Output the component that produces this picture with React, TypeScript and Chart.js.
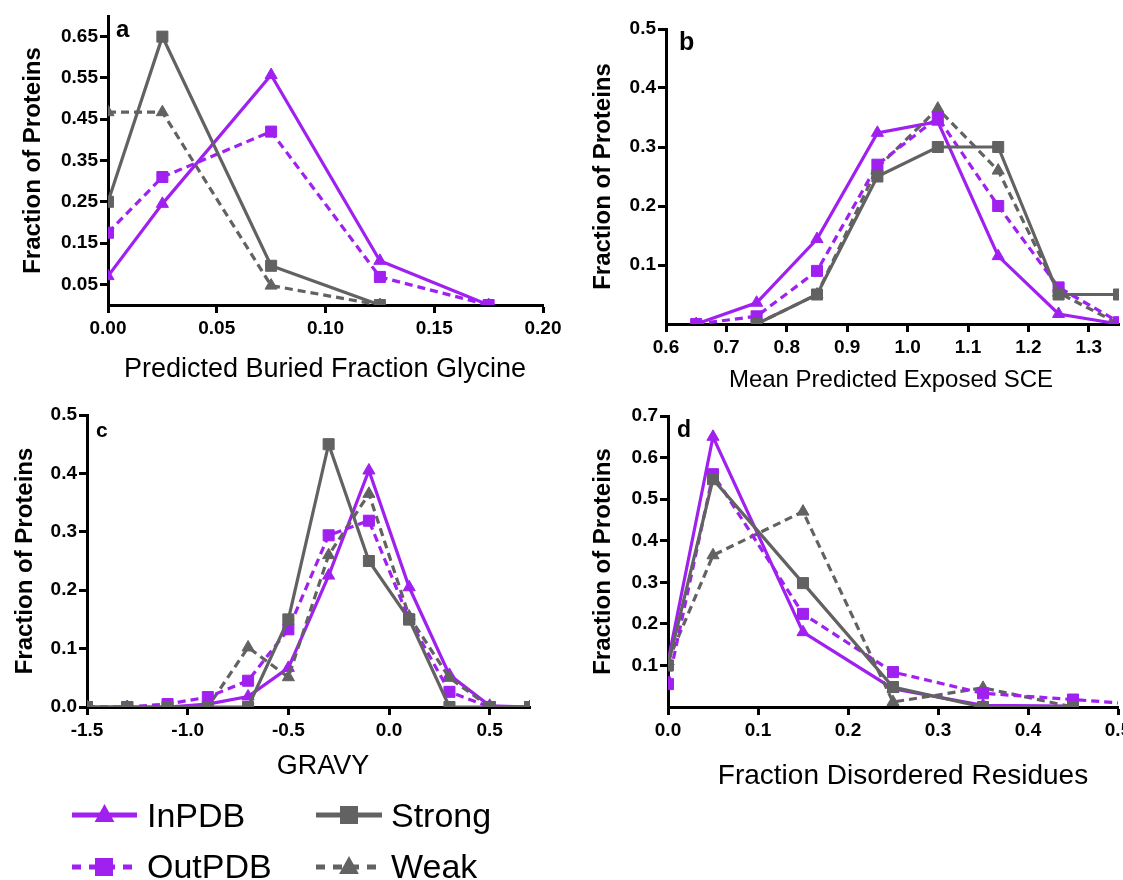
import React, { useEffect, useRef } from 'react';
import { Chart, registerables } from 'chart.js';

Chart.register(...registerables);

const PURPLE = '#A020F0';
const GRAY = '#626262';
const FONT = '"Liberation Sans", Arial, Helvetica, sans-serif';

// ---------- Panel a: Predicted Buried Fraction Glycine ----------
const aX = [0, 0.025, 0.075, 0.125, 0.175];
const aInPDB = [0.07, 0.245, 0.557, 0.107, 0.0];
const aOutPDB = [0.175, 0.31, 0.42, 0.068, 0.0];
const aGrayX = [0, 0.025, 0.075, 0.125];
const aStrong = [0.25, 0.65, 0.095, 0.0];
const aWeak = [0.467, 0.467, 0.047, 0.0];
const aXTicks = [0, 0.05, 0.1, 0.15, 0.2];
const aYTicks = [0.05, 0.15, 0.25, 0.35, 0.45, 0.55, 0.65];

// ---------- Panel b: Mean Predicted Exposed SCE ----------
const bX = [0.65, 0.75, 0.85, 0.95, 1.05, 1.15, 1.25, 1.35];
const bInPDB = [0, 0.036, 0.144, 0.324, 0.343, 0.115, 0.017, 0];
const bOutPDB = [0, 0.013, 0.09, 0.27, 0.35, 0.2, 0.062, 0.003];
const bGrayX = [0.75, 0.85, 0.95, 1.05, 1.15, 1.25, 1.35];
const bStrong = [0, 0.05, 0.25, 0.3, 0.3, 0.05, 0.05];
const bWeak = [0, 0.05, 0.265, 0.365, 0.26, 0.053, 0];
const bXTicks = [0.6, 0.7, 0.8, 0.9, 1.0, 1.1, 1.2, 1.3];
const bYTicks = [0.1, 0.2, 0.3, 0.4, 0.5];

// ---------- Panel c: GRAVY ----------
const cX = [-1.5, -1.3, -1.1, -0.9, -0.7, -0.5, -0.3, -0.1, 0.1, 0.3, 0.5, 0.7];
const cInPDB = [0, 0, 0, 0.005, 0.018, 0.067, 0.225, 0.405, 0.205, 0.055, 0.002, 0];
const cOutPDB = [0, 0, 0.005, 0.017, 0.045, 0.133, 0.294, 0.319, 0.15, 0.026, 0, 0];
const cStrong = [0, 0, 0, 0, 0, 0.15, 0.45, 0.25, 0.15, 0, 0, 0];
const cWeak = [0, 0, 0, 0, 0.102, 0.051, 0.26, 0.365, 0.155, 0.05, 0, 0];
const cXTicks = [-1.5, -1.0, -0.5, 0.0, 0.5];
const cYTicks = [0.0, 0.1, 0.2, 0.3, 0.4, 0.5];

// ---------- Panel d: Fraction Disordered Residues ----------
const dX = [0, 0.05, 0.15, 0.25, 0.35, 0.45];
const dOutX = [0, 0.05, 0.15, 0.25, 0.35, 0.45, 0.55];
const dInPDB = [0.11, 0.65, 0.18, 0.044, 0.004, 0.002];
const dOutPDB = [0.055, 0.56, 0.224, 0.084, 0.033, 0.018, 0.002];
const dStrong = [0.1, 0.548, 0.298, 0.048, 0.0, 0.0];
const dWeak = [0.11, 0.365, 0.47, 0.012, 0.046, 0.0];
const dXTicks = [0.0, 0.1, 0.2, 0.3, 0.4, 0.5];
const dYTicks = [0.1, 0.2, 0.3, 0.4, 0.5, 0.6, 0.7];

const SERIES_NAMES = ['InPDB', 'OutPDB', 'Strong', 'Weak'];
const Y_TITLE = 'Fraction of Proteins';

const CW = 1160;
const CH = 880;

type PanelSpec = {
  letter: string;
  xTitle: string;
  series: { x: number[]; y: number[] }[];
  xRange: [number, number];
  yRange: [number, number];
  xTicks: number[];
  yTicks: number[];
  xDec: number;
  yDec: number;
  area: { L: number; T: number; R: number; B: number };
  xTitlePos: { x: number; y: number; size: number };
  yTitleX: number;
  letterPos: { x: number; y: number; size: number };
};

const panels: PanelSpec[] = [
  {
    letter: 'a',
    xTitle: 'Predicted Buried Fraction Glycine',
    series: [
      { x: aX, y: aInPDB },
      { x: aX, y: aOutPDB },
      { x: aGrayX, y: aStrong },
      { x: aGrayX, y: aWeak },
    ],
    xRange: [0, 0.2],
    yRange: [0, 0.7],
    xTicks: aXTicks,
    yTicks: aYTicks,
    xDec: 2,
    yDec: 2,
    area: { L: 108, T: 16, R: 543, B: 305 },
    xTitlePos: { x: 325, y: 370, size: 27 },
    yTitleX: 33,
    letterPos: { x: 116, y: 37, size: 24 },
  },
  {
    letter: 'b',
    xTitle: 'Mean Predicted Exposed SCE',
    series: [
      { x: bX, y: bInPDB },
      { x: bX, y: bOutPDB },
      { x: bGrayX, y: bStrong },
      { x: bGrayX, y: bWeak },
    ],
    xRange: [0.6, 1.35],
    yRange: [0, 0.5],
    xTicks: bXTicks,
    yTicks: bYTicks,
    xDec: 1,
    yDec: 1,
    area: { L: 666, T: 29, R: 1119, B: 324 },
    xTitlePos: { x: 891, y: 380, size: 24 },
    yTitleX: 603,
    letterPos: { x: 679, y: 50, size: 25 },
  },
  {
    letter: 'c',
    xTitle: 'GRAVY',
    series: [
      { x: cX, y: cInPDB },
      { x: cX, y: cOutPDB },
      { x: cX, y: cStrong },
      { x: cX, y: cWeak },
    ],
    xRange: [-1.5, 0.7],
    yRange: [0, 0.5],
    xTicks: cXTicks,
    yTicks: cYTicks,
    xDec: 1,
    yDec: 1,
    area: { L: 87, T: 415, R: 530, B: 707 },
    xTitlePos: { x: 323, y: 767, size: 27 },
    yTitleX: 25,
    letterPos: { x: 96, y: 437, size: 21 },
  },
  {
    letter: 'd',
    xTitle: 'Fraction Disordered Residues',
    series: [
      { x: dX, y: dInPDB },
      { x: dOutX, y: dOutPDB },
      { x: dX, y: dStrong },
      { x: dX, y: dWeak },
    ],
    xRange: [0, 0.5],
    yRange: [0, 0.7],
    xTicks: dXTicks,
    yTicks: dYTicks,
    xDec: 1,
    yDec: 1,
    area: { L: 668, T: 416, R: 1118, B: 707 },
    xTitlePos: { x: 903, y: 776, size: 28 },
    yTitleX: 603,
    letterPos: { x: 677, y: 437, size: 23 },
  },
];

const STYLES = [
  { color: PURPLE, dash: [] as number[], point: 'triangle', radius: 7, order: 3 },
  { color: PURPLE, dash: [8, 5], point: 'rect', radius: 7.8, order: 1 },
  { color: GRAY, dash: [] as number[], point: 'rect', radius: 7.8, order: 0 },
  { color: GRAY, dash: [8, 5], point: 'triangle', radius: 7, order: 2 },
];

const panelTextPlugin = {
  id: 'panelText',
  afterDraw(chart: any, _args: any, opts: any) {
    const ctx = chart.ctx as CanvasRenderingContext2D;
    ctx.save();
    ctx.fillStyle = '#000';
    ctx.font = `bold ${opts.letterPos.size}px ${FONT}`;
    ctx.textAlign = 'left';
    ctx.textBaseline = 'alphabetic';
    ctx.fillText(opts.letter, opts.letterPos.x, opts.letterPos.y);
    ctx.font = `${opts.xTitlePos.size}px ${FONT}`;
    ctx.textAlign = 'center';
    ctx.textBaseline = 'middle';
    ctx.fillText(opts.xTitle, opts.xTitlePos.x, opts.xTitlePos.y);
    const ca = chart.chartArea;
    ctx.translate(opts.yTitleX, (ca.top + ca.bottom) / 2);
    ctx.rotate(-Math.PI / 2);
    ctx.font = `bold 24px ${FONT}`;
    ctx.fillText(Y_TITLE, 0, 0);
    ctx.restore();
  },
};

function Panel({ spec }: { spec: PanelSpec }) {
  const ref = useRef<HTMLCanvasElement>(null);
  useEffect(() => {
    if (!ref.current) return;
    const WY = 60;
    const HX = 40;
    const { L, T, R, B } = spec.area;
    const tickFont = { family: FONT, size: 19, weight: 'bold' as const };
    const axisGrid = {
      display: true,
      drawOnChartArea: false,
      drawTicks: true,
      tickLength: 8,
      tickWidth: 3,
      tickColor: '#000',
      color: '#000',
    };
    const chart = new Chart(ref.current, {
      type: 'line',
      data: {
        datasets: spec.series.map((s, i) => ({
          label: SERIES_NAMES[i],
          data: s.y.map((v, j) => ({ x: s.x[j], y: v })),
          borderColor: STYLES[i].color,
          backgroundColor: STYLES[i].color,
          borderWidth: 3.2,
          borderDash: STYLES[i].dash,
          pointStyle: STYLES[i].point as any,
          pointRadius: STYLES[i].radius,
          pointBorderWidth: 1,
          pointBorderColor: STYLES[i].color,
          pointBackgroundColor: STYLES[i].color,
          tension: 0,
          fill: false,
          order: STYLES[i].order,
          clip: 0,
        })),
      },
      options: {
        animation: false,
        responsive: false,
        devicePixelRatio: 1,
        layout: {
          padding: { left: L - WY, top: T, right: CW - R, bottom: CH - B - HX },
        },
        plugins: {
          legend: { display: false },
          tooltip: { enabled: false },
          panelText: {
            letter: spec.letter,
            letterPos: spec.letterPos,
            xTitle: spec.xTitle,
            xTitlePos: spec.xTitlePos,
            yTitleX: spec.yTitleX,
          },
        } as any,
        scales: {
          x: {
            type: 'linear',
            min: spec.xRange[0],
            max: spec.xRange[1],
            afterBuildTicks: (s: any) => {
              s.ticks = spec.xTicks.map((v) => ({ value: v }));
            },
            afterFit: (s: any) => {
              s.height = HX;
            },
            ticks: {
              font: tickFont,
              color: '#000',
              padding: 4,
              autoSkip: false,
              maxRotation: 0,
              callback: (v: any) => Number(v).toFixed(spec.xDec),
            },
            grid: axisGrid,
            border: { display: true, color: '#000', width: 3 },
          },
          y: {
            type: 'linear',
            min: spec.yRange[0],
            max: spec.yRange[1],
            afterBuildTicks: (s: any) => {
              s.ticks = spec.yTicks.map((v) => ({ value: v }));
            },
            afterFit: (s: any) => {
              s.width = WY;
            },
            ticks: {
              font: tickFont,
              color: '#000',
              padding: 2,
              autoSkip: false,
              callback: (v: any) => Number(v).toFixed(spec.yDec),
            },
            grid: axisGrid,
            border: { display: true, color: '#000', width: 3 },
          },
        },
      },
      plugins: [panelTextPlugin],
    });
    return () => chart.destroy();
  }, [spec]);
  return (
    <canvas
      ref={ref}
      width={CW}
      height={CH}
      style={{ position: 'absolute', left: 0, top: 0, width: CW, height: CH }}
    />
  );
}

function Legend() {
  const tri = (cx: number, cy: number, s: number) =>
    `${cx},${cy - s * 0.55} ${cx + s * 0.55},${cy + s * 0.45} ${cx - s * 0.55},${cy + s * 0.45}`;
  const textStyle = { fontFamily: FONT, fontSize: 34, fill: '#000' } as any;
  return (
    <svg width={560} height={100} style={{ position: 'absolute', left: 0, top: 780 }}>
      <line x1={72} y1={35} x2={137} y2={35} stroke={PURPLE} strokeWidth={5} />
      <polygon points={tri(104.5, 34, 18)} fill={PURPLE} />
      <text x={147} y={47} style={textStyle}>InPDB</text>
      <line x1={72} y1={87} x2={137} y2={87} stroke={PURPLE} strokeWidth={5} strokeDasharray="9 8" />
      <rect x={95} y={78} width={18} height={18} fill={PURPLE} />
      <text x={147} y={98} style={textStyle}>OutPDB</text>
      <line x1={316} y1={35} x2={382} y2={35} stroke={GRAY} strokeWidth={5} />
      <rect x={340} y={26} width={18} height={18} fill={GRAY} />
      <text x={391} y={47} style={textStyle}>Strong</text>
      <line x1={316} y1={87} x2={382} y2={87} stroke={GRAY} strokeWidth={5} strokeDasharray="9 8" />
      <polygon points={tri(349, 86, 18)} fill={GRAY} />
      <text x={391} y={98} style={textStyle}>Weak</text>
    </svg>
  );
}

export default function App() {
  return (
    <div
      style={{
        position: 'fixed',
        left: 0,
        top: 0,
        width: 1123,
        height: 880,
        overflow: 'hidden',
        background: '#fff',
      }}
    >
      {panels.map((p) => (
        <Panel key={p.letter} spec={p} />
      ))}
      <Legend />
    </div>
  );
}
